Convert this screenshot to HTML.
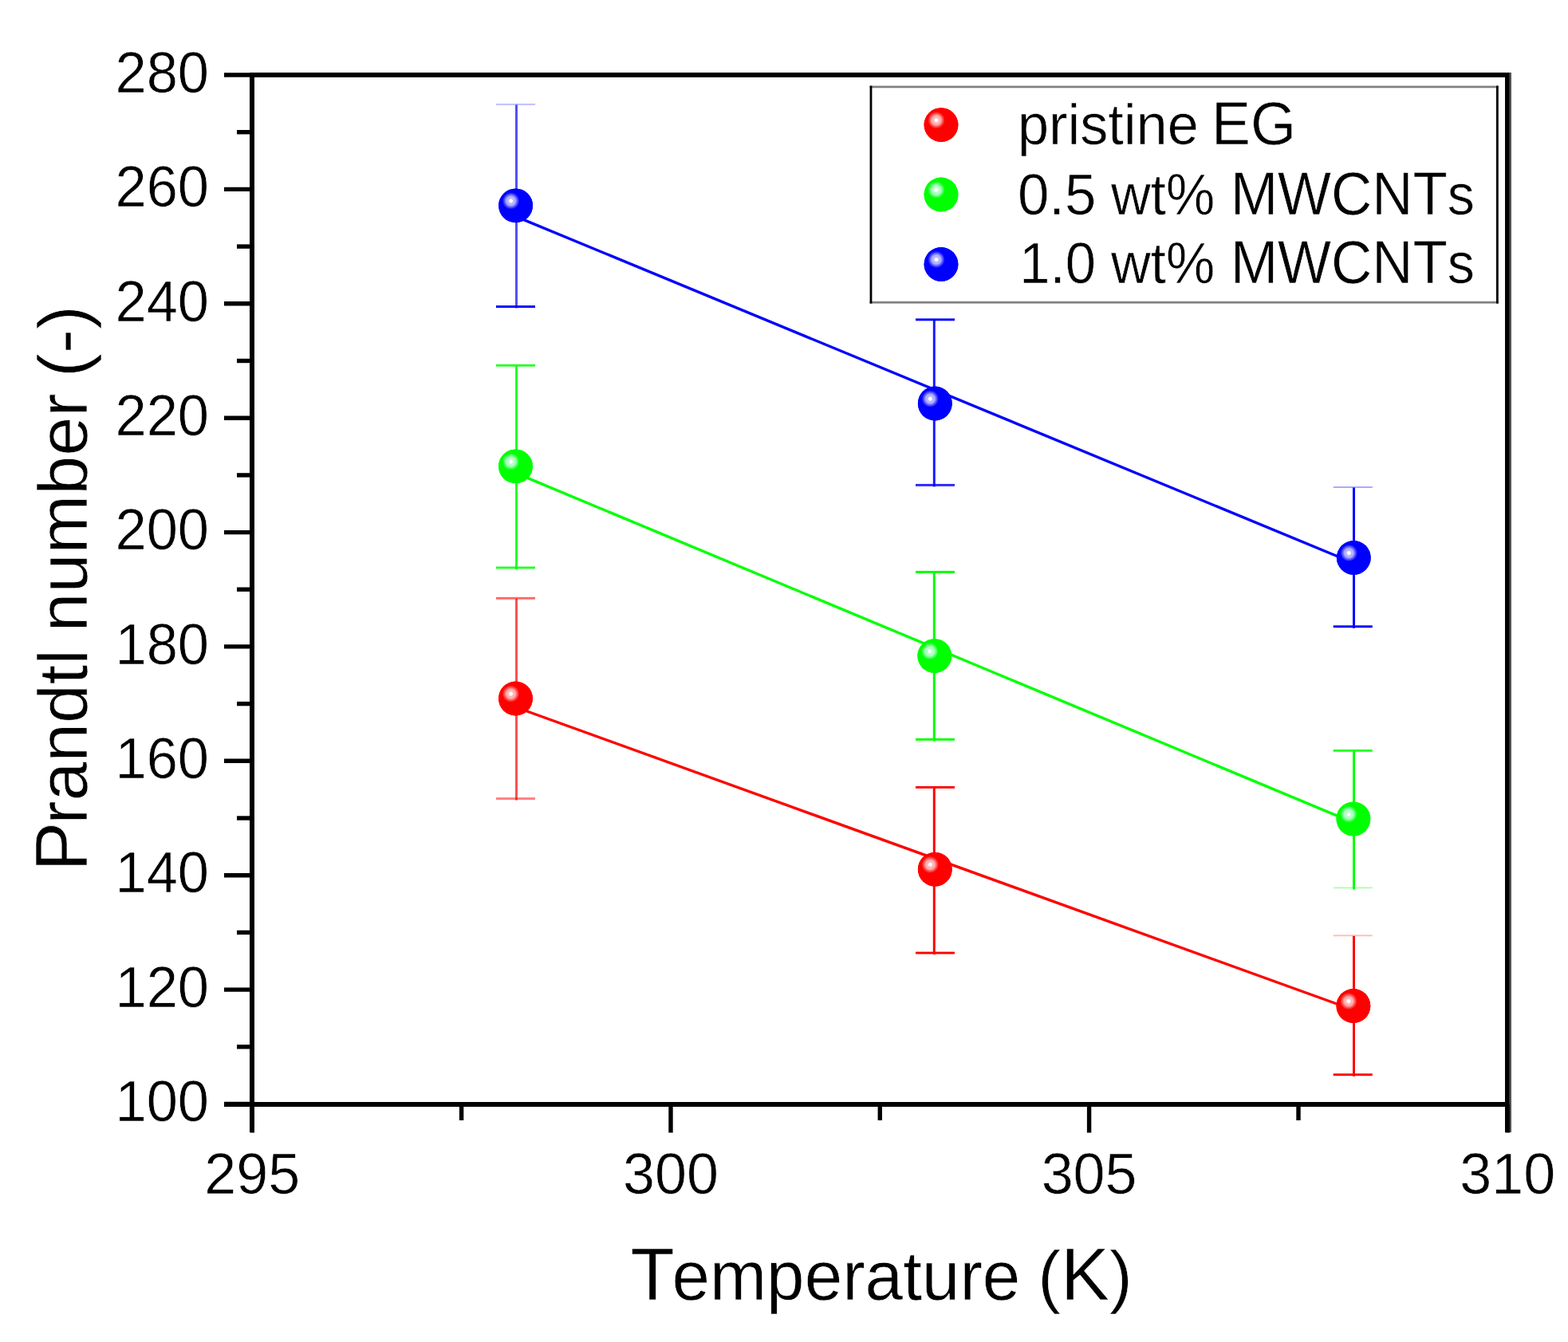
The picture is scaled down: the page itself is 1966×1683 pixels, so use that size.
<!DOCTYPE html>
<html lang="en"><head><meta charset="utf-8"><title>Prandtl number vs Temperature</title>
<style>
html,body{margin:0;padding:0;background:#fff;}
body{width:1966px;height:1683px;overflow:hidden;}
svg{display:block;}
text{font-family:"Liberation Sans",Arial,Helvetica,sans-serif;fill:#000;font-kerning:none;stroke:#fff;stroke-width:0.6px;stroke-linejoin:round;}
.tk{font-size:73px;}
.ti{font-size:88px;}
.lg{font-size:73px;}
.ti .c{font-size:93.3px;}
.lg .c{font-size:75.9px;}
</style></head><body>
<svg width="1966" height="1683" viewBox="0 0 1966 1683">
<defs>
<radialGradient id="gr" gradientUnits="objectBoundingBox" cx="0.36" cy="0.362" r="0.25" fx="0.36" fy="0.362">
<stop offset="0" stop-color="#fff"/><stop offset="0.17" stop-color="#fff"/>
<stop offset="0.3" stop-color="#ffb4b4"/>
<stop offset="0.5" stop-color="#ffb4b4"/>
<stop offset="0.72" stop-color="#ff6464"/>
<stop offset="1" stop-color="#ff0000"/>
</radialGradient>
<radialGradient id="gg" gradientUnits="objectBoundingBox" cx="0.36" cy="0.362" r="0.25" fx="0.36" fy="0.362">
<stop offset="0" stop-color="#fff"/><stop offset="0.17" stop-color="#fff"/>
<stop offset="0.3" stop-color="#b4ffc4"/>
<stop offset="0.5" stop-color="#b4ffc4"/>
<stop offset="0.72" stop-color="#64ff80"/>
<stop offset="1" stop-color="#00ff00"/>
</radialGradient>
<radialGradient id="gb" gradientUnits="objectBoundingBox" cx="0.36" cy="0.362" r="0.25" fx="0.36" fy="0.362">
<stop offset="0" stop-color="#fff"/><stop offset="0.17" stop-color="#fff"/>
<stop offset="0.3" stop-color="#b4b4ff"/>
<stop offset="0.5" stop-color="#b4b4ff"/>
<stop offset="0.72" stop-color="#6464ff"/>
<stop offset="1" stop-color="#0000ff"/>
</radialGradient>
</defs>
<rect width="1966" height="1683" fill="#fff"/>
<g stroke="#000" stroke-width="6" fill="none" shape-rendering="crispEdges">
<line x1="313" y1="94" x2="1890" y2="94"/>
<line x1="316" y1="91" x2="316" y2="1420"/>
<line x1="281" y1="1385" x2="1894" y2="1385"/>
<line x1="1890" y1="91" x2="1890" y2="1420"/>
</g>
<rect x="1892.5" y="91" width="2.5" height="1329" fill="#555"/>
<g stroke="#000" stroke-width="5.4">
<line x1="281" y1="1384.5" x2="316" y2="1384.5"/>
<line x1="297" y1="1312.8" x2="316" y2="1312.8"/>
<line x1="281" y1="1241.1" x2="316" y2="1241.1"/>
<line x1="297" y1="1169.4" x2="316" y2="1169.4"/>
<line x1="281" y1="1097.7" x2="316" y2="1097.7"/>
<line x1="297" y1="1026.0" x2="316" y2="1026.0"/>
<line x1="281" y1="954.3" x2="316" y2="954.3"/>
<line x1="297" y1="882.6" x2="316" y2="882.6"/>
<line x1="281" y1="810.9" x2="316" y2="810.9"/>
<line x1="297" y1="739.2" x2="316" y2="739.2"/>
<line x1="281" y1="667.6" x2="316" y2="667.6"/>
<line x1="297" y1="595.9" x2="316" y2="595.9"/>
<line x1="281" y1="524.2" x2="316" y2="524.2"/>
<line x1="297" y1="452.5" x2="316" y2="452.5"/>
<line x1="281" y1="380.8" x2="316" y2="380.8"/>
<line x1="297" y1="309.1" x2="316" y2="309.1"/>
<line x1="281" y1="237.4" x2="316" y2="237.4"/>
<line x1="297" y1="165.7" x2="316" y2="165.7"/>
<line x1="281" y1="94.0" x2="316" y2="94.0"/>
<line x1="316.3" y1="1385" x2="316.3" y2="1420.5"/>
<line x1="578.6" y1="1385" x2="578.6" y2="1405"/>
<line x1="841.0" y1="1385" x2="841.0" y2="1420.5"/>
<line x1="1103.3" y1="1385" x2="1103.3" y2="1405"/>
<line x1="1365.6" y1="1385" x2="1365.6" y2="1420.5"/>
<line x1="1628.0" y1="1385" x2="1628.0" y2="1405"/>
<line x1="1890.3" y1="1385" x2="1890.3" y2="1420.5"/>
</g>
<text class="tk" transform="translate(262,1406.2) scale(0.9650,1)" text-anchor="end">100</text>
<text class="tk" transform="translate(262,1262.8) scale(0.9650,1)" text-anchor="end">120</text>
<text class="tk" transform="translate(262,1119.4) scale(0.9650,1)" text-anchor="end">140</text>
<text class="tk" transform="translate(262,976.0) scale(0.9650,1)" text-anchor="end">160</text>
<text class="tk" transform="translate(262,832.6) scale(0.9650,1)" text-anchor="end">180</text>
<text class="tk" transform="translate(262,689.3) scale(0.9650,1)" text-anchor="end">200</text>
<text class="tk" transform="translate(262,545.9) scale(0.9650,1)" text-anchor="end">220</text>
<text class="tk" transform="translate(262,402.5) scale(0.9650,1)" text-anchor="end">240</text>
<text class="tk" transform="translate(262,259.1) scale(0.9650,1)" text-anchor="end">260</text>
<text class="tk" transform="translate(262,115.7) scale(0.9650,1)" text-anchor="end">280</text>
<text class="tk" transform="translate(316.3,1496.7) scale(0.9850,1)" text-anchor="middle">295</text>
<text class="tk" transform="translate(841.0,1496.7) scale(0.9850,1)" text-anchor="middle">300</text>
<text class="tk" transform="translate(1365.6,1496.7) scale(0.9850,1)" text-anchor="middle">305</text>
<text class="tk" transform="translate(1890.3,1496.7) scale(0.9850,1)" text-anchor="middle">310</text>
<text id="xt" class="ti" transform="translate(0,1630)"><tspan x="790.47" textLength="488.91" lengthAdjust="spacingAndGlyphs"><tspan class="c">T</tspan><tspan dx="-3.5">emperature</tspan></tspan> <tspan x="1301.25" textLength="118.53" lengthAdjust="spacingAndGlyphs">(<tspan class="c">K</tspan>)</tspan></text>
<text id="yt" class="ti" transform="translate(109.2,1100) rotate(-90)"><tspan x="7.20" textLength="278.51" lengthAdjust="spacingAndGlyphs"><tspan class="c">P</tspan><tspan dx="-3">randtl</tspan></tspan> <tspan x="307.45" textLength="299.28" lengthAdjust="spacingAndGlyphs">number</tspan> <tspan x="627.04" textLength="89.84" lengthAdjust="spacingAndGlyphs">(-)</tspan></text>
<line x1="647.0" y1="887.0" x2="1697.0" y2="1266.5" stroke="#ff0000" stroke-width="3.4"/>
<g fill="#ff0000">
<rect x="646.0" y="750.8" width="3" height="252.8" fill-opacity="0.69"/>
<rect x="622.0" y="748.8" width="49.0" height="2.9" fill-opacity="0.60"/>
<rect x="622.0" y="1000.1" width="49.0" height="2.9" fill-opacity="0.50"/>
<rect x="1169.8" y="987.9" width="3" height="209.2" fill-opacity="1.00"/>
<rect x="1148.0" y="985.9" width="49.0" height="2.9" fill-opacity="1.00"/>
<rect x="1148.0" y="1193.6" width="49.0" height="2.9" fill-opacity="1.00"/>
<rect x="1696.0" y="1173.8" width="3" height="176.0" fill-opacity="1.00"/>
<rect x="1671.7" y="1172.3" width="49.1" height="2.0" fill-opacity="0.25"/>
<rect x="1671.7" y="1346.3" width="49.1" height="2.9" fill-opacity="1.00"/>
</g>
<circle cx="646.5" cy="876.0" r="21.4" fill="#ff0000"/>
<circle cx="646.5" cy="876.0" r="21.4" fill="url(#gr)"/>
<circle cx="1172.3" cy="1090.2" r="21.4" fill="#ff0000"/>
<circle cx="1172.3" cy="1090.2" r="21.4" fill="url(#gr)"/>
<circle cx="1696.9" cy="1261.5" r="21.4" fill="#ff0000"/>
<circle cx="1696.9" cy="1261.5" r="21.4" fill="url(#gr)"/>
<line x1="647.0" y1="593.4" x2="1697.0" y2="1031.6" stroke="#00ff00" stroke-width="3.4"/>
<g fill="#00ff00">
<rect x="646.0" y="458.7" width="3" height="255.3" fill-opacity="0.85"/>
<rect x="622.0" y="456.8" width="49.0" height="2.9" fill-opacity="0.85"/>
<rect x="622.0" y="710.5" width="49.0" height="2.9" fill-opacity="0.85"/>
<rect x="1169.8" y="717.9" width="3" height="211.5" fill-opacity="1.00"/>
<rect x="1148.0" y="715.9" width="49.0" height="2.9" fill-opacity="1.00"/>
<rect x="1148.0" y="925.9" width="49.0" height="2.9" fill-opacity="1.00"/>
<rect x="1696.0" y="941.9" width="3" height="173.5" fill-opacity="1.00"/>
<rect x="1671.7" y="939.9" width="49.1" height="2.9" fill-opacity="0.85"/>
<rect x="1671.7" y="1112.4" width="49.1" height="2.0" fill-opacity="0.30"/>
</g>
<circle cx="646.5" cy="584.8" r="21.4" fill="#00ff00"/>
<circle cx="646.5" cy="584.8" r="21.4" fill="url(#gg)"/>
<circle cx="1171.8" cy="822.6" r="21.4" fill="#00ff00"/>
<circle cx="1171.8" cy="822.6" r="21.4" fill="url(#gg)"/>
<circle cx="1696.9" cy="1027.0" r="21.4" fill="#00ff00"/>
<circle cx="1696.9" cy="1027.0" r="21.4" fill="url(#gg)"/>
<line x1="647.0" y1="271.6" x2="1697.0" y2="706.0" stroke="#0000ff" stroke-width="3.4"/>
<g fill="#0000ff">
<rect x="646.0" y="131.4" width="3" height="255.1" fill-opacity="0.69"/>
<rect x="622.0" y="129.9" width="49.0" height="2.0" fill-opacity="0.25"/>
<rect x="622.0" y="383.1" width="49.0" height="2.9" fill-opacity="1.00"/>
<rect x="1169.8" y="401.4" width="3" height="209.0" fill-opacity="0.90"/>
<rect x="1148.0" y="399.4" width="49.0" height="2.9" fill-opacity="1.00"/>
<rect x="1148.0" y="606.9" width="49.0" height="2.9" fill-opacity="0.85"/>
<rect x="1696.0" y="611.5" width="3" height="176.3" fill-opacity="1.00"/>
<rect x="1671.7" y="610.0" width="49.1" height="2.0" fill-opacity="0.33"/>
<rect x="1671.7" y="784.3" width="49.1" height="2.9" fill-opacity="1.00"/>
</g>
<circle cx="646.6" cy="257.8" r="21.4" fill="#0000ff"/>
<circle cx="646.6" cy="257.8" r="21.4" fill="url(#gb)"/>
<circle cx="1172.3" cy="506.0" r="21.4" fill="#0000ff"/>
<circle cx="1172.3" cy="506.0" r="21.4" fill="url(#gb)"/>
<circle cx="1697.3" cy="699.4" r="21.4" fill="#0000ff"/>
<circle cx="1697.3" cy="699.4" r="21.4" fill="url(#gb)"/>
<rect x="1092.5" y="109" width="784.5" height="270" fill="#fff" stroke="none"/>
<rect x="1090.6" y="107.6" width="788.2" height="2.7" fill="#808080"/>
<rect x="1090.6" y="377.9" width="788.2" height="2.7" fill="#808080"/>
<rect x="1090.6" y="107.6" width="2.8" height="273" fill="#000"/>
<rect x="1876" y="107.6" width="2.8" height="273" fill="#000"/>
<circle cx="1180" cy="156.6" r="21.4" fill="#ff0000"/>
<circle cx="1180" cy="156.6" r="21.4" fill="url(#gr)"/>
<text id="l1" class="lg" transform="translate(0,180.8)"><tspan x="1275.99" textLength="226.85" lengthAdjust="spacingAndGlyphs">pristine</tspan> <tspan x="1519.08" textLength="106.15" lengthAdjust="spacingAndGlyphs"><tspan class="c">EG</tspan></tspan></text>
<circle cx="1180" cy="244.0" r="21.4" fill="#00ff00"/>
<circle cx="1180" cy="244.0" r="21.4" fill="url(#gg)"/>
<text id="l2" class="lg" transform="translate(0,268.5)"><tspan x="1275.96" textLength="98.47" lengthAdjust="spacingAndGlyphs">0.5</tspan> <tspan x="1393.01" textLength="130.27" lengthAdjust="spacingAndGlyphs">wt%</tspan> <tspan x="1542.97" textLength="305.86" lengthAdjust="spacingAndGlyphs"><tspan class="c">MWCNT</tspan>s</tspan></text>
<circle cx="1180" cy="331.4" r="21.4" fill="#0000ff"/>
<circle cx="1180" cy="331.4" r="21.4" fill="url(#gb)"/>
<text id="l3" class="lg" transform="translate(0,355.3)"><tspan x="1278.37" textLength="95.49" lengthAdjust="spacingAndGlyphs">1.0</tspan> <tspan x="1393.01" textLength="130.27" lengthAdjust="spacingAndGlyphs">wt%</tspan> <tspan x="1542.97" textLength="305.86" lengthAdjust="spacingAndGlyphs"><tspan class="c">MWCNT</tspan>s</tspan></text>
</svg>
</body></html>
